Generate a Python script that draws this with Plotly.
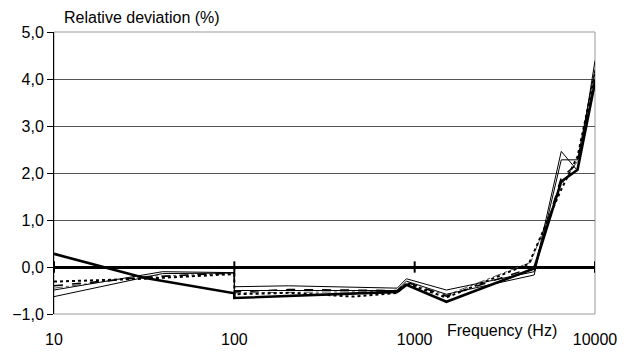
import plotly.graph_objects as go

# ---- data ----
thick_f = [10, 31.5, 100, 100, 800, 900, 1500, 4600, 6500, 8000, 10000]
thick_v = [0.28, -0.23, -0.56, -0.66, -0.53, -0.38, -0.74, -0.03, 1.82, 2.07, 3.93]

thin1_f = [10, 40, 100, 100, 200, 800, 900, 1500, 4600, 6500, 8000, 10000]
thin1_v = [-0.49, -0.10, -0.12, -0.42, -0.40, -0.45, -0.25, -0.49, -0.10, 2.46, 2.05, 4.39]

thin2_f = [10, 40, 100, 100, 800, 900, 1500, 4600, 6500, 8000, 10000]
thin2_v = [-0.63, -0.14, -0.13, -0.50, -0.50, -0.30, -0.58, -0.17, 2.28, 2.28, 4.20]

dot_f = [10, 31.5, 100, 100, 200, 460, 800, 900, 1500, 4300, 6500, 8000, 10000]
dot_v = [-0.31, -0.25, -0.15, -0.58, -0.55, -0.63, -0.55, -0.35, -0.65, 0.07, 1.65, 2.35, 4.10]

dash_f = [10, 31.5, 100, 100, 200, 800, 900, 1500, 4600, 6500, 8000, 10000]
dash_v = [-0.40, -0.22, -0.12, -0.53, -0.48, -0.50, -0.32, -0.62, 0.00, 1.90, 2.20, 4.00]

dd_f = [10, 31.5, 100, 100, 800, 900, 1500, 4400, 6500, 8000, 10000]
dd_v = [-0.45, -0.20, -0.14, -0.55, -0.52, -0.33, -0.60, 0.10, 1.75, 2.25, 4.05]

x_ticks = [10, 100, 1000, 10000]
x_tick_text = ["10", "100", "1000", "10000"]
y_ticks = [-1, 0, 1, 2, 3, 4, 5]

FONT = "Liberation Sans, Arial, sans-serif"

fig = go.Figure()

series = [
    (dd_f, dd_v, dict(color="#555555", width=1, dash="dashdot")),
    (dash_f, dash_v, dict(color="black", width=1.5, dash="dash")),
    (dot_f, dot_v, dict(color="black", width=2, dash="dot")),
    (thin2_f, thin2_v, dict(color="black", width=1)),
    (thin1_f, thin1_v, dict(color="black", width=1)),
    (thick_f, thick_v, dict(color="black", width=2.6)),
]
for f, v, ln in series:
    fig.add_trace(go.Scatter(x=f, y=v, mode="lines", line=ln, showlegend=False,
                             hoverinfo="skip"))

shapes = [
    dict(type="rect", xref="paper", yref="paper", x0=0, x1=1, y0=0, y1=1,
         line=dict(color="#999999", width=1), layer="below"),
]
for t in x_ticks:
    shapes.append(dict(type="line", xref="x", yref="y", x0=t, x1=t, y0=-0.12, y1=0.12,
                       line=dict(color="black", width=2), layer="above"))

fig.update_layout(
    width=638, height=354,
    margin=dict(l=54, r=43, t=32, b=40),
    paper_bgcolor="white", plot_bgcolor="white",
    separators=", ",
    font=dict(family=FONT, size=16, color="black"),
    shapes=shapes,
    xaxis=dict(type="log", range=[1, 4], tickvals=x_ticks, ticktext=x_tick_text,
               showgrid=False, showline=False, zeroline=False, ticks="",
               automargin=False,
               ticklabelstandoff=14, tickfont=dict(size=16)),
    yaxis=dict(range=[-1, 5], tickvals=y_ticks, tickformat=".1f",
               automargin=False,
               showgrid=True, gridcolor="#555555", gridwidth=1,
               zeroline=True, zerolinecolor="black", zerolinewidth=2.8,
               showline=True, linecolor="black", linewidth=1,
               ticks="outside", ticklen=6, tickcolor="black", tickwidth=1,
               tickfont=dict(size=16)),
    annotations=[
        dict(text="Relative deviation (%)", xref="paper", yref="paper",
             x=(62 - 54) / 541, y=1 + (32 - 17) / 282, xanchor="left", yanchor="middle",
             showarrow=False, font=dict(size=16)),
        dict(text="Frequency (Hz)", xref="paper", yref="paper",
             x=(502 - 54) / 541, y=-(330 - 314) / 282, xanchor="center", yanchor="middle",
             showarrow=False, font=dict(size=16)),
    ],
)

fig.write_html("out.html")
